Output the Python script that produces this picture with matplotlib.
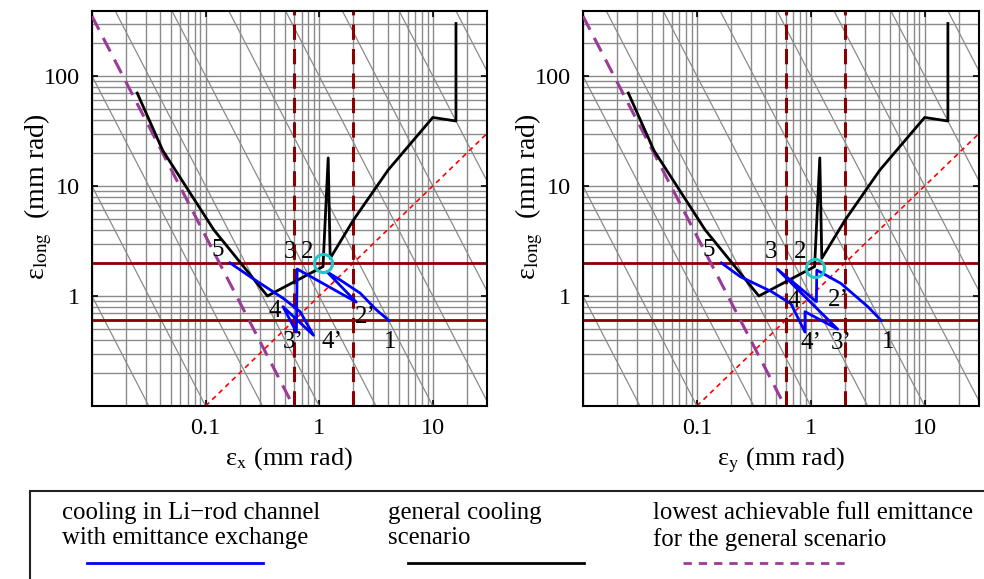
import numpy as np
import matplotlib
matplotlib.use("Agg")
import matplotlib.pyplot as plt
from matplotlib.lines import Line2D
from matplotlib.patches import Rectangle
from matplotlib.ticker import LogLocator, NullFormatter, FixedLocator, FixedFormatter

plt.rcParams['font.family'] = ['Liberation Serif', 'DejaVu Serif']
plt.rcParams['mathtext.fontset'] = 'stix'


# Data (emittances in mm rad)

# general cooling scenario, same path in both planes
general_eps_t = [0.025, 0.042, 0.118, 0.35, 1.08, 1.2, 1.25, 2.0, 4.05, 10, 16, 16]
general_eps_long = [70, 21, 4.0, 1.0, 1.85, 18, 2.2, 4.9, 14, 42, 39, 300]

# cooling in Li-rod channel with emittance exchange, x plane
lirod_x = [4.1, 3.18, 2.3, 1.53, 1.17, 2.12, 0.64, 0.63, 0.48, 0.89, 0.68, 0.484, 0.246, 0.164]
lirod_x_long = [0.6, 0.75, 1.06, 1.4, 1.66, 0.88, 1.76, 0.47, 0.8, 0.44, 0.72, 0.95, 1.5, 2.0]

# same channel, y plane
lirod_y = [4.15, 3.17, 1.84, 1.13, 1.12, 0.51, 1.72, 0.89, 0.89, 0.67, 0.45, 0.24, 0.164]
lirod_y_long = [0.6, 0.8, 1.3, 1.72, 0.89, 1.75, 0.5, 0.72, 0.47, 0.85, 1.1, 1.5, 2.0]

# point labels (text, eps_t, eps_long)
labels_x = [("5", 0.129, 2.62), ("3", 0.555, 2.53), ("2", 0.79, 2.53), ("4", 0.41, 0.73),
            ("2\u2019", 2.55, 0.64), ("3\u2019", 0.59, 0.38), ("4\u2019", 1.29, 0.38), ("1", 4.2, 0.38)]
labels_y = [("5", 0.126, 2.62), ("3", 0.45, 2.53), ("2", 0.8, 2.53), ("4", 0.71, 0.9),
            ("2\u2019", 1.74, 0.92), ("4\u2019", 1.0, 0.37), ("3\u2019", 1.84, 0.37), ("1", 4.75, 0.38)]

# final working point marked with a circle
final_point_x = (1.08, 2.0)
final_point_y = (1.1, 1.8)

# reference lines
long_limits = [0.6, 2.0]        # horizontal solid lines
trans_limits = [0.6, 2.0]       # vertical dashed lines
lowest_6d = 0.035               # eps_t^2 * eps_long for the lowest full emittance
iso_6d = [10.0 ** n for n in range(-6, 7)]
diag_ends = [0.1, 30]

x_range = (0.01, 30)
y_range = (0.1, 390)

DARKRED = '#8b0000'
PURPLE = '#9a3c96'
GRAY = '#8a8a8a'


def draw_panel(ax, xs, ys, pt, labels, xlabel):
    ax.set_xscale('log')
    ax.set_yscale('log')
    ax.set_xlim(*x_range)
    ax.set_ylim(*y_range)

    # grid
    ax.xaxis.set_major_locator(FixedLocator([0.1, 1, 10]))
    ax.xaxis.set_major_formatter(FixedFormatter(['0.1', '1', '10']))
    ax.yaxis.set_major_locator(FixedLocator([1, 10, 100]))
    ax.yaxis.set_major_formatter(FixedFormatter(['1', '10', '100']))
    ax.xaxis.set_minor_locator(LogLocator(base=10, subs=np.arange(1, 10), numticks=20))
    ax.yaxis.set_minor_locator(LogLocator(base=10, subs=np.arange(1, 10), numticks=20))
    ax.xaxis.set_minor_formatter(NullFormatter())
    ax.yaxis.set_minor_formatter(NullFormatter())
    ax.grid(True, which='both', color=GRAY, lw=1.0)
    ax.set_axisbelow(True)
    ax.tick_params(which='major', direction='in', length=4, width=1.2, labelsize=17.5,
                   top=True, right=True, pad=9)
    ax.tick_params(which='minor', length=0)

    # lines of constant 6D emittance
    tt = np.array(x_range)
    for p in iso_6d:
        ax.plot(tt, p / tt ** 2, color=GRAY, lw=0.9, zorder=1)

    ax.plot(diag_ends, diag_ends, color='red', lw=1.2, ls=(0, (3, 2.5)), zorder=2)
    for v in long_limits:
        ax.axhline(v, color=DARKRED, lw=2.0, zorder=2)
    for v in trans_limits:
        ax.axvline(v, color=DARKRED, lw=2.2, ls=(0, (5, 3)), zorder=2)

    tl = np.array([x_range[0], 1.0])
    ax.plot(tl, lowest_6d / tl ** 2, color=PURPLE, lw=2.2, ls=(0, (5, 3)), zorder=3)

    ax.plot(general_eps_t, general_eps_long, color='black', lw=2.0, zorder=4)
    ax.plot(xs, ys, color='#0000ff', lw=2.0, zorder=5)
    ax.plot([pt[0]], [pt[1]], 'o', ms=13, mfc='none', mec='#1ec8c8', mew=2.2, zorder=6)

    for txt, lx, ly in labels:
        ax.text(lx, ly, txt, fontsize=18, ha='center', va='center', zorder=7)

    for sp in ax.spines.values():
        sp.set_linewidth(1.5)
    ax.set_xlabel(xlabel, fontsize=19)
    ax.xaxis.set_label_coords(0.5, -0.1)
    ax.set_ylabel('\u03b5$_{\\mathrm{long}}$  (mm rad)', fontsize=20)
    ax.yaxis.set_label_coords(-0.095, 0.53)


fig = plt.figure(figsize=(9.84, 5.79), dpi=100)
ax1 = fig.add_axes([0.0935, 0.2988, 0.4014, 0.6822])
ax2 = fig.add_axes([0.5925, 0.2988, 0.4024, 0.6822])

draw_panel(ax1, lirod_x, lirod_x_long, final_point_x, labels_x, '\u03b5$_{\\mathrm{x}}$ (mm rad)')
draw_panel(ax2, lirod_y, lirod_y_long, final_point_y, labels_y, '\u03b5$_{\\mathrm{y}}$ (mm rad)')

# legend box along the bottom
box = Rectangle((30 / 984, -0.05), 1.0, 1 - 491 / 579 + 0.05, transform=fig.transFigure,
                fill=False, lw=1.5, ec='#222222', clip_on=False)
fig.add_artist(box)

legend_items = [
    ("cooling in Li\u2212rod channel\nwith emittance exchange", 62, 87, 263, '#0000ff', '-'),
    ("general cooling\nscenario", 388, 408, 584, 'black', '-'),
    ("lowest achievable full emittance\nfor the general scenario", 653, 683, 850, PURPLE, (0, (3, 2.5))),
]
for txt, tx, x0, x1, col, ls in legend_items:
    fig.text(tx / 984, 1 - 502 / 579, txt, fontsize=17.8, ha='left', va='top', linespacing=1.2)
    fig.add_artist(Line2D([x0 / 984, x1 / 984], [1 - 563 / 579] * 2, transform=fig.transFigure,
                          color=col, lw=2.0, ls=ls))

fig.savefig('out.png', dpi=100)
